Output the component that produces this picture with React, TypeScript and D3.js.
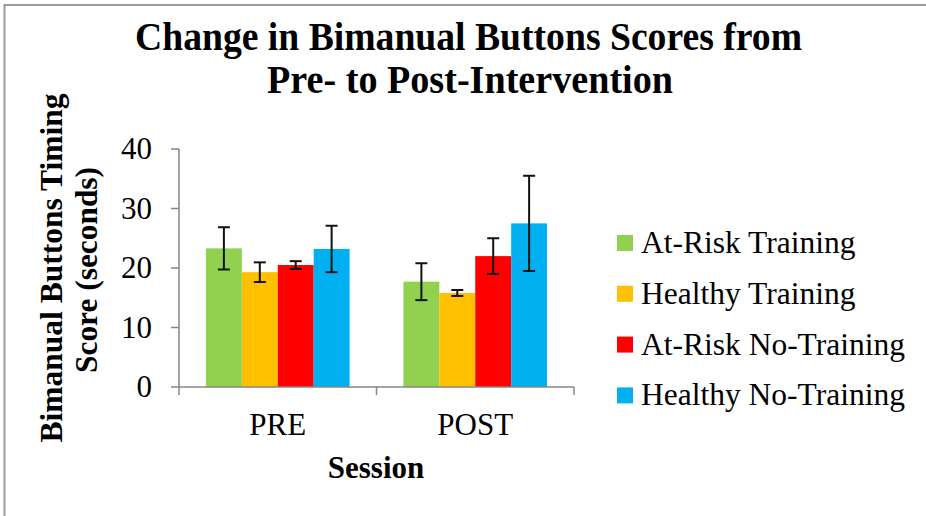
import React from "react";
import * as d3 from "d3";

const sessions = ["PRE", "POST"];
const groups = ["At-Risk Training", "Healthy Training", "At-Risk No-Training", "Healthy No-Training"];
const colors = ["#92D050", "#FFC000", "#FF0000", "#00B0F0"];
// values per group, [PRE, POST]
const atRiskTraining = [23.3, 17.7];
const healthyTraining = [19.3, 15.8];
const atRiskNoTraining = [20.5, 22.0];
const healthyNoTraining = [23.2, 27.5];
const errAtRiskTraining = [3.55, 3.1];
const errHealthyTraining = [1.65, 0.5];
const errAtRiskNoTraining = [0.65, 3.0];
const errHealthyNoTraining = [3.9, 8.0];
const yTicks = [0, 10, 20, 30, 40];

const values = [atRiskTraining, healthyTraining, atRiskNoTraining, healthyNoTraining];
const errors = [errAtRiskTraining, errHealthyTraining, errAtRiskNoTraining, errHealthyNoTraining];

export default function App() {
  const W = 926, H = 516;
  const left = 179, right = 574, top = 149, bottom = 387;
  const y = d3.scaleLinear().domain([0, 40]).range([bottom, top]);
  const x0 = d3.scaleBand().domain(sessions).range([left, right]).paddingInner(0).paddingOuter(0);
  const x1 = d3.scaleBand().domain(groups).range([0, x0.bandwidth()]).paddingInner(0).paddingOuter(0.75);
  const font = "'Liberation Serif', 'Times New Roman', serif";
  const axisColor = "#868686";

  return (
    <div style={{ position: "absolute", left: 0, top: 0 }}>
      <svg width={W} height={H} style={{ display: "block" }} fontFamily={font}>
        <rect x={0} y={0} width={W} height={H} fill="#fff" />
        <path d={`M4.5,${H} V5 H${W}`} fill="none" stroke="#9a9a9a" strokeWidth={2} />
        <text x={468.5} y={50} textAnchor="middle" fontSize={40} fontWeight="bold" textLength={667} lengthAdjust="spacingAndGlyphs">Change in Bimanual Buttons Scores from</text>
        <text x={470} y={93} textAnchor="middle" fontSize={40} fontWeight="bold" textLength={406} lengthAdjust="spacingAndGlyphs">Pre- to Post-Intervention</text>

        <g transform="translate(62,268) rotate(-90)">
          <text x={0} y={0} textAnchor="middle" fontSize={32} fontWeight="bold" textLength={349} lengthAdjust="spacingAndGlyphs">Bimanual Buttons Timing</text>
        </g>
        <g transform="translate(97,270) rotate(-90)">
          <text x={0} y={0} textAnchor="middle" fontSize={32} fontWeight="bold" textLength={206} lengthAdjust="spacingAndGlyphs">Score (seconds)</text>
        </g>

        {/* bars */}
        {groups.map((g, gi) =>
          sessions.map((s, si) => {
            const bx = (x0(s) ?? 0) + (x1(g) ?? 0);
            const bw = x1.bandwidth();
            const v = values[gi][si];
            const e = errors[gi][si];
            const cx = bx + bw / 2;
            return (
              <g key={g + s}>
                <rect x={bx} y={y(v)} width={bw} height={bottom - y(v)} fill={colors[gi]} />
                <line x1={cx} x2={cx} y1={y(v + e)} y2={y(v - e)} stroke="#111" strokeWidth={2} />
                <line x1={cx - 6} x2={cx + 6} y1={y(v + e)} y2={y(v + e)} stroke="#111" strokeWidth={2} />
                <line x1={cx - 6} x2={cx + 6} y1={y(v - e)} y2={y(v - e)} stroke="#111" strokeWidth={2} />
              </g>
            );
          })
        )}

        {/* y axis */}
        <line x1={left} x2={left} y1={top} y2={bottom} stroke={axisColor} strokeWidth={1.5} />
        {yTicks.map((t) => (
          <g key={t}>
            <line x1={left - 8} x2={left} y1={y(t)} y2={y(t)} stroke={axisColor} strokeWidth={1.5} />
            <text x={152} y={y(t) + 10} textAnchor="end" fontSize={31}>{t}</text>
          </g>
        ))}
        {/* x axis */}
        <line x1={left} x2={right} y1={bottom} y2={bottom} stroke={axisColor} strokeWidth={1.5} />
        {[...sessions.map((s) => x0(s) ?? 0), right].map((p, i) => (
          <line key={i} x1={p} x2={p} y1={bottom} y2={bottom + 8} stroke={axisColor} strokeWidth={1.5} />
        ))}
        {sessions.map((s) => (
          <text key={s} x={(x0(s) ?? 0) + x0.bandwidth() / 2} y={435} textAnchor="middle" fontSize={31}>{s}</text>
        ))}
        <text x={376} y={478} textAnchor="middle" fontSize={31} fontWeight="bold">Session</text>

        {/* legend */}
        {groups.map((g, i) => (
          <g key={g} transform={`translate(617,${235 + i * 50.8})`}>
            <rect x={0} y={0} width={16} height={16} fill={colors[i]} />
            <text x={24} y={18} fontSize={31.5}>{g}</text>
          </g>
        ))}
      </svg>
    </div>
  );
}
